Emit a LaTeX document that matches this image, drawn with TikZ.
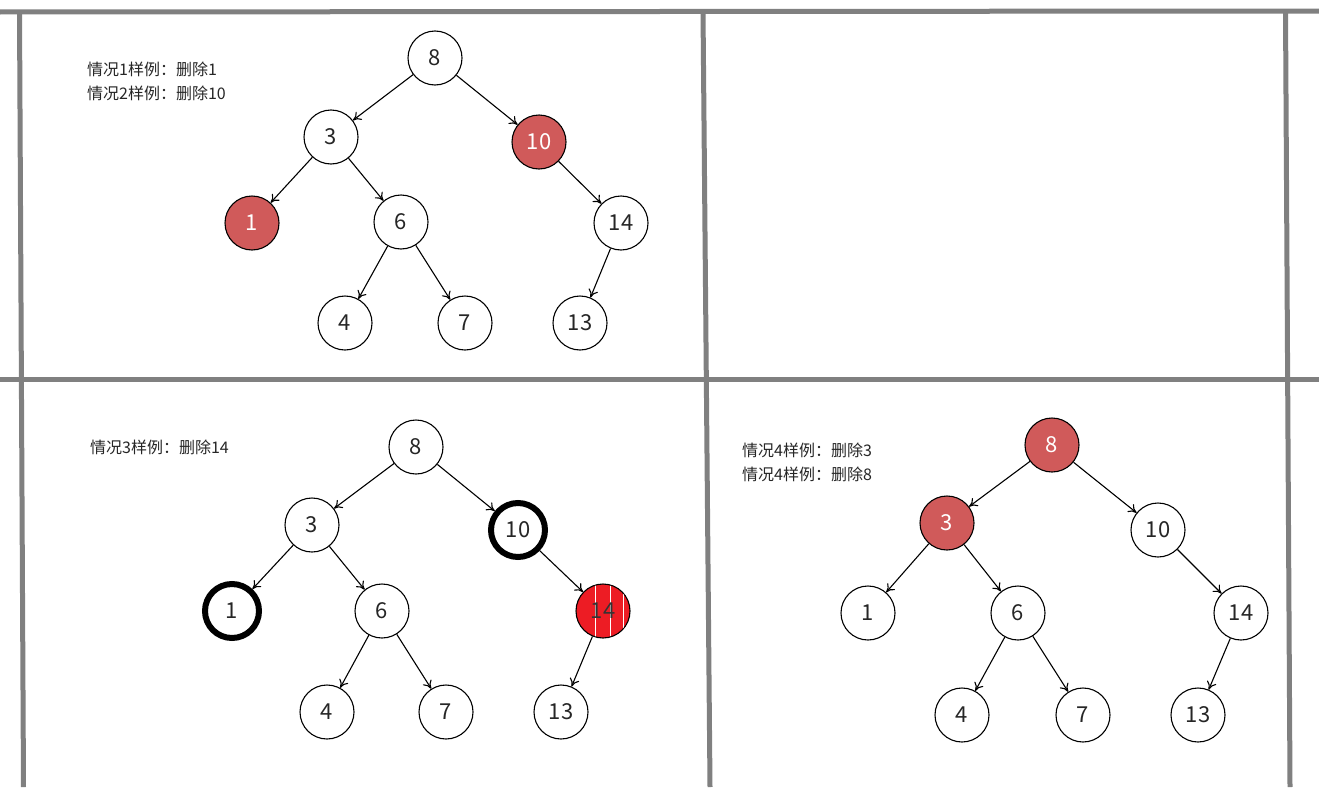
\documentclass[tikz,border=0pt]{standalone}
\usepackage{fontspec}
\setmainfont{Noto Sans CJK SC}
\usetikzlibrary{arrows.meta}
\definecolor{gridgray}{HTML}{808080}
\definecolor{nodered}{HTML}{D05A5A}
\definecolor{brightred}{HTML}{ED1C24}
\tikzset{
  tn/.style={circle,draw=black,line width=1.1pt,minimum size=54pt,inner sep=0pt,fill=white,text=black!85,font=\fontsize{22}{24}\selectfont},
  rn/.style={tn,fill=nodered,text=white},
  thk/.style={tn,line width=6pt,minimum size=54pt},
  edge/.style={-{To[length=8pt,width=10pt]},line width=1.1pt},
  grid/.style={draw=gridgray,line width=5pt},
  lbl/.style={anchor=west,font=\fontsize{16}{24}\selectfont,text=black!85,align=left,inner sep=0pt}
}
\begin{document}
\begin{tikzpicture}[x=1pt,y=-1pt]
\useasboundingbox (0,0) rectangle (1319,787);
\fill[white] (0,0) rectangle (1319,787);
% grid
\draw[grid] (0,12) -- (1319,11);
\draw[grid] (0,379.5) -- (1319,379.5);
\draw[grid] (19.5,12) -- (23.5,787);
\draw[grid] (703,11) -- (710,787);
\draw[grid] (1285.5,11) -- (1290,787);
% ---------- top-left ----------
\node[lbl] (t1) at (87,81) {情况1样例：删除1\\情况2样例：删除10};
\node[tn] (a8) at (435,58) {8};
\node[tn] (a3) at (331,137) {3};
\node[rn] (a10) at (539,142) {10};
\node[rn] (a1) at (252,223) {1};
\node[tn] (a6) at (401,222) {6};
\node[tn] (a14) at (621,223) {14};
\node[tn] (a4) at (345,323) {4};
\node[tn] (a7) at (465,323) {7};
\node[tn] (a13) at (580,323) {13};
\draw[edge] (a8) -- (a3);
\draw[edge] (a8) -- (a10);
\draw[edge] (a3) -- (a1);
\draw[edge] (a3) -- (a6);
\draw[edge] (a10) -- (a14);
\draw[edge] (a6) -- (a4);
\draw[edge] (a6) -- (a7);
\draw[edge] (a14) -- (a13);
% ---------- bottom-left ----------
\node[lbl] (t3) at (90,447) {情况3样例：删除14};
\node[tn] (b8) at (416,447) {8};
\node[tn] (b3) at (312,525) {3};
\node[thk] (b10) at (518,530) {10};
\node[thk] (b1) at (232,611) {1};
\node[tn] (b6) at (382,611) {6};
\node[tn,fill=brightred] (b14) at (603,611) {};
\begin{scope}
\clip (603,611) circle (26.5pt);
\foreach \dx in {-8,7,20} \draw[white,line width=1pt] (603+\dx,580) -- (603+\dx,642);
\end{scope}
\node[font=\fontsize{22}{24}\selectfont,text=black!80] (b14t) at (603,611) {14};
\node[tn] (b4) at (327,712) {4};
\node[tn] (b7) at (446,712) {7};
\node[tn] (b13) at (561,712) {13};
\draw[edge] (b8) -- (b3);
\draw[edge] (b8) -- (b10);
\draw[edge] (b3) -- (b1);
\draw[edge] (b3) -- (b6);
\draw[edge] (b10) -- (b14);
\draw[edge] (b6) -- (b4);
\draw[edge] (b6) -- (b7);
\draw[edge] (b14) -- (b13);
% ---------- bottom-right ----------
\node[lbl] (t4) at (742,462) {情况4样例：删除3\\情况4样例：删除8};
\node[rn] (c8) at (1052,445) {8};
\node[rn] (c3) at (947,523) {3};
\node[tn] (c10) at (1158,530) {10};
\node[tn] (c1) at (868,613) {1};
\node[tn] (c6) at (1018,613) {6};
\node[tn] (c14) at (1241,613) {14};
\node[tn] (c4) at (962,715) {4};
\node[tn] (c7) at (1083,715) {7};
\node[tn] (c13) at (1198,715) {13};
\draw[edge] (c8) -- (c3);
\draw[edge] (c8) -- (c10);
\draw[edge] (c3) -- (c1);
\draw[edge] (c3) -- (c6);
\draw[edge] (c10) -- (c14);
\draw[edge] (c6) -- (c4);
\draw[edge] (c6) -- (c7);
\draw[edge] (c14) -- (c13);
\end{tikzpicture}
\end{document}
